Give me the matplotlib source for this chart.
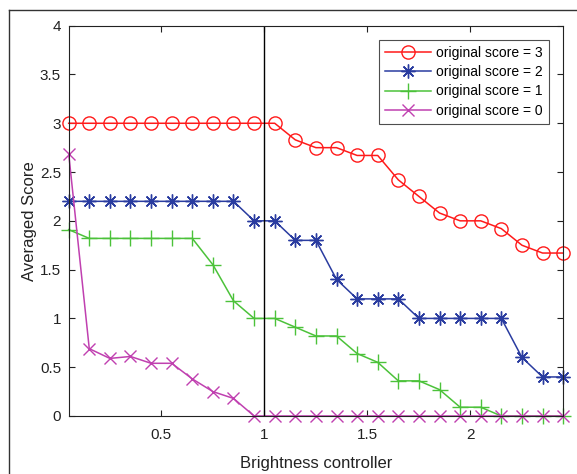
import matplotlib
matplotlib.use('Agg')
import matplotlib.pyplot as plt
from matplotlib.lines import Line2D

plt.rcParams['font.family'] = ['Liberation Sans', 'DejaVu Sans']

# brightness controller values (25 steps)
brightness = [0.05, 0.15, 0.25, 0.35, 0.45, 0.55, 0.65, 0.75, 0.85, 0.95,
              1.05, 1.15, 1.25, 1.35, 1.45, 1.55, 1.65, 1.75, 1.85, 1.95,
              2.05, 2.15, 2.25, 2.35, 2.45]

score3 = [3, 3, 3, 3, 3, 3, 3, 3, 3, 3,
          3, 2.83, 2.75, 2.75, 2.67, 2.67, 2.42, 2.25, 2.08, 2.0,
          2.0, 1.92, 1.75, 1.67, 1.67]
score2 = [2.2, 2.2, 2.2, 2.2, 2.2, 2.2, 2.2, 2.2, 2.2, 2.0,
          2.0, 1.8, 1.8, 1.4, 1.2, 1.2, 1.2, 1.0, 1.0, 1.0,
          1.0, 1.0, 0.6, 0.4, 0.4]
score1 = [1.91, 1.82, 1.82, 1.82, 1.82, 1.82, 1.82, 1.55, 1.18, 1.0,
          1.0, 0.91, 0.82, 0.82, 0.64, 0.55, 0.36, 0.36, 0.27, 0.09,
          0.09, 0, 0, 0, 0]
score0 = [2.69, 0.69, 0.59, 0.61, 0.54, 0.54, 0.38, 0.25, 0.18, 0,
          0, 0, 0, 0, 0, 0, 0, 0, 0, 0,
          0, 0, 0, 0, 0]

labels = ['original score = 3', 'original score = 2',
          'original score = 1', 'original score = 0']

fig = plt.figure(figsize=(5.77, 4.74), dpi=100)
ax = fig.add_axes([0.119, 0.1224, 0.857, 0.8234])

# MATLAB-like asterisk: 8 arms
asterisk = (8, 2, 0)

ax.plot(brightness, score3, '-', marker='o', color='#ff1a1a', mfc='none', ms=9.5, mew=1.0, lw=1.1,
        label=labels[0], clip_on=False)
ax.plot(brightness, score2, '-', marker=asterisk, color='#2a3ca0', ms=10, mew=1.0, lw=1.1,
        label=labels[1], clip_on=False)
ax.plot(brightness, score1, '-', marker='+', color='#4cc23a', ms=11, mew=1.0, lw=1.1,
        label=labels[2], clip_on=False)
ax.plot(brightness, score0, '-', marker='x', color='#c040b0', ms=8.5, mew=1.0, lw=1.1,
        label=labels[3], clip_on=False)

ax.axvline(1.0, color='black', lw=1.0)

ax.set_xlim(0.05, 2.45)
ax.set_ylim(0, 4)
ax.set_xticks([0.5, 1, 1.5, 2])
ax.set_xticklabels(['0.5', '1', '1.5', '2'])
ax.set_yticks([0, 0.5, 1, 1.5, 2, 2.5, 3, 3.5, 4])
ax.set_yticklabels(['0', '0.5', '1', '1.5', '2', '2.5', '3', '3.5', '4'])
ax.tick_params(direction='in', top=True, right=True, labelsize=11,
               length=4, width=0.8, colors='#222222')
ax.tick_params(axis='x', pad=8.5)
ax.tick_params(axis='y', pad=5.5)
for s in ax.spines.values():
    s.set_color('#222222')
    s.set_linewidth(0.8)

ax.set_xlabel('Brightness controller', fontsize=12, color='#222222', labelpad=10)
ax.set_ylabel('Averaged Score', fontsize=12, color='#222222', labelpad=2)

leg = ax.legend(loc='upper right', fontsize=10, frameon=True, fancybox=False,
                edgecolor='#222222', handlelength=3.3, borderpad=0.45,
                labelspacing=0.38, handletextpad=0.4, borderaxespad=1.0)
leg.get_frame().set_linewidth(0.8)

# outer frame lines around the picture
fig.add_artist(Line2D([8.5 / 577, 1.0], [1 - 9.5 / 474, 1 - 9.5 / 474],
                      transform=fig.transFigure, color='#333333', lw=1.0))
fig.add_artist(Line2D([8.5 / 577, 8.5 / 577], [0, 1 - 9.5 / 474],
                      transform=fig.transFigure, color='#333333', lw=1.0))

fig.savefig('out.png', dpi=100)
